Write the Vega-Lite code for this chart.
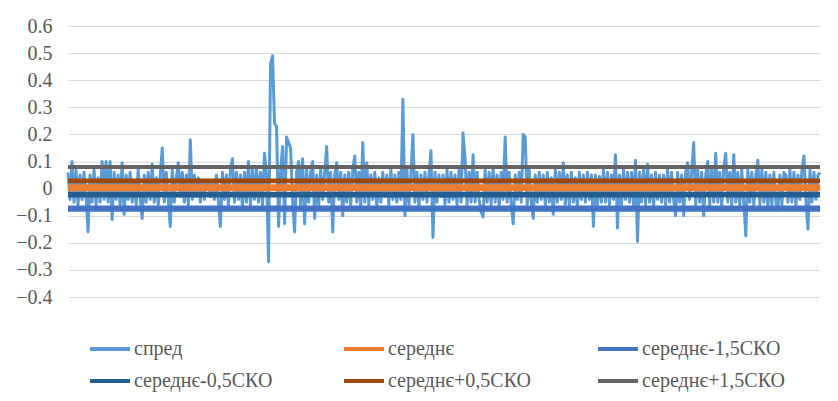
{
  "$schema": "https://vega.github.io/schema/vega-lite/v6.json",
  "width": 752,
  "height": 271,
  "autosize": {"type": "none"},
  "padding": {"left": 68, "top": 26, "right": 18, "bottom": 104},
  "background": "white",
  "config": {
    "view": {"stroke": null},
    "font": "Liberation Serif",
    "legend": {
      "orient": "none",
      "legendX": 20,
      "legendY": 301,
      "direction": "horizontal",
      "columns": 3,
      "gridAlign": "all",
      "symbolType": "stroke",
      "symbolSize": 1600,
      "symbolStrokeWidth": 4,
      "labelFont": "Liberation Serif",
      "labelFontSize": 20,
      "labelColor": "#595959",
      "labelOffset": 2,
      "labelLimit": 400,
      "columnPadding": 59,
      "rowPadding": -15,
      "title": null
    }
  },
  "datasets": {
    "spread": [
      {"i":0,"v":0.06},{"i":1,"v":-0.04},{"i":2,"v":0.1},{"i":3,"v":-0.05},{"i":4,"v":0.07},{"i":5,"v":-0.06},{"i":6,"v":0.05},{"i":7,"v":-0.04},{"i":8,"v":0.06},{"i":9,"v":-0.03},
      {"i":10,"v":-0.16},{"i":11,"v":0.05},{"i":12,"v":-0.05},{"i":13,"v":0.07},{"i":14,"v":-0.06},{"i":15,"v":0.04},{"i":16,"v":-0.05},{"i":17,"v":0.1},{"i":18,"v":-0.04},{"i":19,"v":0.1},
      {"i":20,"v":-0.05},{"i":21,"v":0.1},{"i":22,"v":-0.115},{"i":23,"v":0.06},{"i":24,"v":-0.04},{"i":25,"v":0.05},{"i":26,"v":-0.06},{"i":27,"v":0.095},{"i":28,"v":-0.095},{"i":29,"v":0.05},
      {"i":30,"v":-0.04},{"i":31,"v":0.06},{"i":32,"v":-0.05},{"i":33,"v":0.03},{"i":34,"v":-0.06},{"i":35,"v":0.07},{"i":36,"v":-0.03},{"i":37,"v":-0.11},{"i":38,"v":0.05},{"i":39,"v":-0.05},
      {"i":40,"v":0.06},{"i":41,"v":-0.04},{"i":42,"v":0.09},{"i":43,"v":-0.05},{"i":44,"v":0.04},{"i":45,"v":-0.06},{"i":46,"v":0.05},{"i":47,"v":0.15},{"i":48,"v":-0.05},{"i":49,"v":0.06},
      {"i":50,"v":-0.04},{"i":51,"v":-0.14},{"i":52,"v":0.07},{"i":53,"v":-0.05},{"i":54,"v":0.04},{"i":55,"v":0.095},{"i":56,"v":-0.03},{"i":57,"v":0.06},{"i":58,"v":-0.05},{"i":59,"v":0.05},
      {"i":60,"v":-0.06},{"i":61,"v":0.18},{"i":62,"v":-0.04},{"i":63,"v":0.05},{"i":64,"v":-0.03},{"i":65,"v":0.04},{"i":66,"v":-0.05},{"i":67,"v":0.03},{"i":68,"v":-0.04},{"i":69,"v":0.03},
      {"i":70,"v":0.02},{"i":71,"v":-0.03},{"i":72,"v":0.03},{"i":73,"v":-0.04},{"i":74,"v":0.05},{"i":75,"v":-0.05},{"i":76,"v":-0.14},{"i":77,"v":0.06},{"i":78,"v":-0.04},{"i":79,"v":0.05},
      {"i":80,"v":-0.06},{"i":81,"v":0.07},{"i":82,"v":0.11},{"i":83,"v":-0.05},{"i":84,"v":0.06},{"i":85,"v":-0.04},{"i":86,"v":0.05},{"i":87,"v":-0.07},{"i":88,"v":0.06},{"i":89,"v":-0.05},
      {"i":90,"v":0.1},{"i":91,"v":-0.06},{"i":92,"v":0.07},{"i":93,"v":-0.04},{"i":94,"v":0.08},{"i":95,"v":-0.05},{"i":96,"v":0.06},{"i":97,"v":-0.06},{"i":98,"v":0.13},{"i":99,"v":0.05},
      {"i":100,"v":-0.27},{"i":101,"v":0.46},{"i":102,"v":0.49},{"i":103,"v":0.24},{"i":104,"v":0.23},{"i":105,"v":-0.14},{"i":106,"v":0.06},{"i":107,"v":0.155},{"i":108,"v":-0.13},{"i":109,"v":0.19},
      {"i":110,"v":0.17},{"i":111,"v":0.15},{"i":112,"v":-0.05},{"i":113,"v":-0.16},{"i":114,"v":0.06},{"i":115,"v":0.1},{"i":116,"v":-0.06},{"i":117,"v":0.11},{"i":118,"v":-0.13},{"i":119,"v":0.07},
      {"i":120,"v":-0.05},{"i":121,"v":0.06},{"i":122,"v":0.1},{"i":123,"v":-0.11},{"i":124,"v":0.05},{"i":125,"v":-0.06},{"i":126,"v":0.07},{"i":127,"v":-0.04},{"i":128,"v":0.06},{"i":129,"v":0.155},
      {"i":130,"v":-0.05},{"i":131,"v":0.06},{"i":132,"v":-0.16},{"i":133,"v":0.05},{"i":134,"v":0.095},{"i":135,"v":-0.04},{"i":136,"v":0.06},{"i":137,"v":-0.1},{"i":138,"v":0.05},{"i":139,"v":-0.05},
      {"i":140,"v":0.06},{"i":141,"v":-0.06},{"i":142,"v":0.07},{"i":143,"v":0.12},{"i":144,"v":-0.05},{"i":145,"v":0.06},{"i":146,"v":-0.07},{"i":147,"v":0.17},{"i":148,"v":-0.05},{"i":149,"v":0.095},
      {"i":150,"v":-0.06},{"i":151,"v":0.05},{"i":152,"v":-0.04},{"i":153,"v":0.06},{"i":154,"v":-0.07},{"i":155,"v":0.04},{"i":156,"v":-0.05},{"i":157,"v":0.06},{"i":158,"v":-0.03},{"i":159,"v":0.05},
      {"i":160,"v":-0.06},{"i":161,"v":0.07},{"i":162,"v":-0.04},{"i":163,"v":0.05},{"i":164,"v":-0.05},{"i":165,"v":0.06},{"i":166,"v":-0.04},{"i":167,"v":0.33},{"i":168,"v":-0.1},{"i":169,"v":0.07},
      {"i":170,"v":-0.06},{"i":171,"v":0.05},{"i":172,"v":0.2},{"i":173,"v":-0.05},{"i":174,"v":0.06},{"i":175,"v":-0.07},{"i":176,"v":0.05},{"i":177,"v":-0.04},{"i":178,"v":0.06},{"i":179,"v":-0.05},
      {"i":180,"v":0.05},{"i":181,"v":0.14},{"i":182,"v":-0.18},{"i":183,"v":0.06},{"i":184,"v":-0.05},{"i":185,"v":0.05},{"i":186,"v":-0.03},{"i":187,"v":0.05},{"i":188,"v":-0.06},{"i":189,"v":0.07},
      {"i":190,"v":-0.05},{"i":191,"v":0.06},{"i":192,"v":-0.04},{"i":193,"v":0.05},{"i":194,"v":-0.06},{"i":195,"v":0.07},{"i":196,"v":-0.05},{"i":197,"v":0.205},{"i":198,"v":0.11},{"i":199,"v":-0.06},
      {"i":200,"v":0.06},{"i":201,"v":-0.05},{"i":202,"v":0.125},{"i":203,"v":-0.05},{"i":204,"v":0.06},{"i":205,"v":-0.04},{"i":206,"v":-0.085},{"i":207,"v":-0.105},{"i":208,"v":0.07},{"i":209,"v":-0.05},
      {"i":210,"v":0.06},{"i":211,"v":-0.06},{"i":212,"v":0.08},{"i":213,"v":-0.05},{"i":214,"v":0.05},{"i":215,"v":-0.07},{"i":216,"v":0.06},{"i":217,"v":-0.04},{"i":218,"v":0.19},{"i":219,"v":-0.05},
      {"i":220,"v":0.06},{"i":221,"v":-0.06},{"i":222,"v":-0.13},{"i":223,"v":0.05},{"i":224,"v":-0.04},{"i":225,"v":0.06},{"i":226,"v":-0.05},{"i":227,"v":0.2},{"i":228,"v":0.19},{"i":229,"v":-0.06},
      {"i":230,"v":0.07},{"i":231,"v":-0.05},{"i":232,"v":-0.11},{"i":233,"v":0.05},{"i":234,"v":-0.05},{"i":235,"v":0.06},{"i":236,"v":-0.04},{"i":237,"v":0.05},{"i":238,"v":-0.06},{"i":239,"v":0.06},
      {"i":240,"v":-0.05},{"i":241,"v":0.04},{"i":242,"v":-0.095},{"i":243,"v":0.07},{"i":244,"v":-0.05},{"i":245,"v":0.06},{"i":246,"v":-0.04},{"i":247,"v":0.095},{"i":248,"v":-0.06},{"i":249,"v":0.05},
      {"i":250,"v":-0.06},{"i":251,"v":0.06},{"i":252,"v":-0.05},{"i":253,"v":0.04},{"i":254,"v":-0.07},{"i":255,"v":0.06},{"i":256,"v":-0.04},{"i":257,"v":0.05},{"i":258,"v":-0.05},{"i":259,"v":0.06},
      {"i":260,"v":-0.04},{"i":261,"v":0.05},{"i":262,"v":-0.14},{"i":263,"v":0.05},{"i":264,"v":-0.06},{"i":265,"v":0.045},{"i":266,"v":-0.05},{"i":267,"v":0.07},{"i":268,"v":-0.05},{"i":269,"v":0.06},
      {"i":270,"v":-0.06},{"i":271,"v":0.05},{"i":272,"v":-0.04},{"i":273,"v":0.125},{"i":274,"v":-0.145},{"i":275,"v":0.05},{"i":276,"v":-0.06},{"i":277,"v":0.07},{"i":278,"v":-0.04},{"i":279,"v":0.06},
      {"i":280,"v":-0.05},{"i":281,"v":0.06},{"i":282,"v":-0.06},{"i":283,"v":0.105},{"i":284,"v":-0.195},{"i":285,"v":0.06},{"i":286,"v":-0.05},{"i":287,"v":0.07},{"i":288,"v":-0.06},{"i":289,"v":0.09},
      {"i":290,"v":-0.05},{"i":291,"v":0.05},{"i":292,"v":-0.07},{"i":293,"v":0.06},{"i":294,"v":-0.04},{"i":295,"v":0.05},{"i":296,"v":-0.05},{"i":297,"v":0.05},{"i":298,"v":-0.06},{"i":299,"v":0.07},
      {"i":300,"v":-0.05},{"i":301,"v":0.06},{"i":302,"v":-0.04},{"i":303,"v":-0.1},{"i":304,"v":0.06},{"i":305,"v":-0.05},{"i":306,"v":0.05},{"i":307,"v":-0.1},{"i":308,"v":0.06},{"i":309,"v":0.095},
      {"i":310,"v":-0.04},{"i":311,"v":0.06},{"i":312,"v":0.17},{"i":313,"v":-0.06},{"i":314,"v":0.07},{"i":315,"v":-0.05},{"i":316,"v":0.06},{"i":317,"v":-0.1},{"i":318,"v":0.05},{"i":319,"v":0.1},
      {"i":320,"v":-0.06},{"i":321,"v":0.07},{"i":322,"v":-0.05},{"i":323,"v":0.13},{"i":324,"v":-0.05},{"i":325,"v":0.06},{"i":326,"v":-0.07},{"i":327,"v":0.08},{"i":328,"v":0.13},{"i":329,"v":-0.05},
      {"i":330,"v":0.06},{"i":331,"v":-0.06},{"i":332,"v":0.125},{"i":333,"v":-0.05},{"i":334,"v":0.06},{"i":335,"v":-0.06},{"i":336,"v":0.07},{"i":337,"v":-0.05},{"i":338,"v":-0.175},{"i":339,"v":0.07},
      {"i":340,"v":-0.05},{"i":341,"v":0.06},{"i":342,"v":-0.06},{"i":343,"v":0.05},{"i":344,"v":0.105},{"i":345,"v":-0.06},{"i":346,"v":0.07},{"i":347,"v":-0.05},{"i":348,"v":0.06},{"i":349,"v":-0.07},
      {"i":350,"v":0.05},{"i":351,"v":-0.06},{"i":352,"v":0.06},{"i":353,"v":-0.05},{"i":354,"v":-0.08},{"i":355,"v":0.05},{"i":356,"v":-0.06},{"i":357,"v":0.06},{"i":358,"v":0.05},{"i":359,"v":-0.05},
      {"i":360,"v":0.07},{"i":361,"v":-0.05},{"i":362,"v":0.06},{"i":363,"v":-0.06},{"i":364,"v":0.05},{"i":365,"v":-0.04},{"i":366,"v":0.07},{"i":367,"v":0.12},{"i":368,"v":-0.05},{"i":369,"v":-0.15},
      {"i":370,"v":0.07},{"i":371,"v":-0.05},{"i":372,"v":0.06},{"i":373,"v":-0.04},{"i":374,"v":0.05},{"i":375,"v":0.06}
    ],
    "levels": [
      {"series": "середнє", "v": 0.003},
      {"series": "середнє-1,5СКО", "v": -0.0735},
      {"series": "середнє-0,5СКО", "v": -0.0225},
      {"series": "середнє+0,5СКО", "v": 0.0285},
      {"series": "середнє+1,5СКО", "v": 0.0795}
    ]
  },
  "encoding": {
    "y": {
      "field": "v", "type": "quantitative",
      "scale": {"domain": [-0.4, 0.6], "nice": false, "zero": false},
      "axis": {
        "title": null,
        "values": [-0.4, -0.3, -0.2, -0.1, 0, 0.1, 0.2, 0.3, 0.4, 0.5, 0.6],
        "format": ".1~f",
        "grid": true,
        "gridColor": "#d9d9d9",
        "gridWidth": 1,
        "domain": false,
        "ticks": false,
        "labelOverlap": false,
        "labelFont": "Liberation Serif",
        "labelFontSize": 20,
        "labelColor": "#595959",
        "labelPadding": 16
      }
    }
  },
  "layer": [
    {
      "data": {"name": "spread"},
      "mark": {"type": "line", "strokeWidth": 3, "strokeJoin": "round"},
      "encoding": {
        "x": {"field": "i", "type": "quantitative", "scale": {"domain": [0, 375], "nice": false, "zero": false}, "axis": null},
        "color": {
          "datum": "спред", "type": "nominal",
          "scale": {
            "domain": ["спред", "середнє", "середнє-1,5СКО", "середнє-0,5СКО", "середнє+0,5СКО", "середнє+1,5СКО"],
            "range": ["#5b9bd5", "#ed7d31", "#4472c4", "#255e91", "#9e480e", "#636363"]
          }
        }
      }
    },
    {
      "data": {"name": "levels"},
      "mark": {"type": "rule"},
      "encoding": {
        "color": {"field": "series", "type": "nominal"},
        "strokeWidth": {
          "field": "series", "type": "nominal",
          "scale": {"domain": ["середнє", "середнє-1,5СКО", "середнє-0,5СКО", "середнє+0,5СКО", "середнє+1,5СКО"], "range": [7, 4, 5, 5, 4]},
          "legend": null
        }
      }
    }
  ]
}
